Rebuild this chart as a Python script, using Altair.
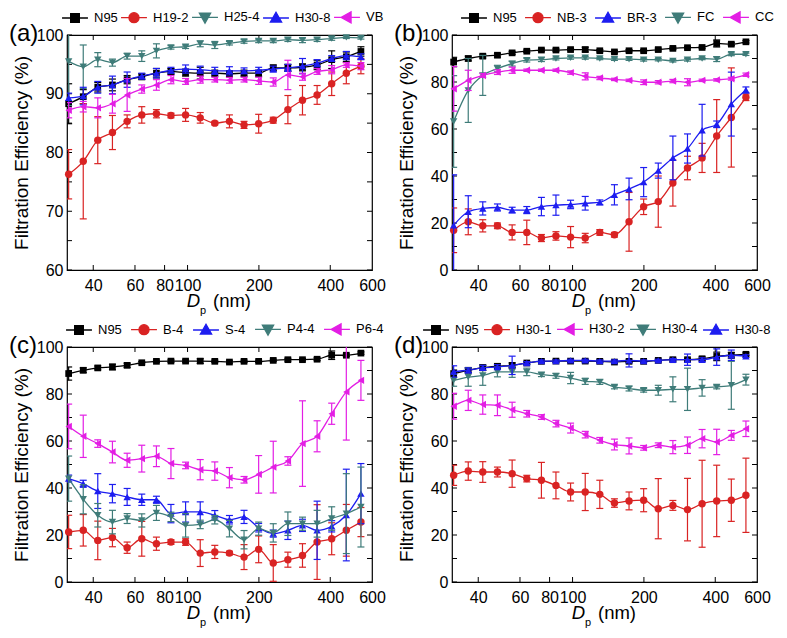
import altair as alt
import pandas as pd

FONT = "Liberation Sans"
W, H = 305, 235

# particle diameter channels (nm)
dp_nm = [31.5, 36.3, 41.8, 48.2, 55.6, 64.1, 73.9, 85.1, 98.1, 113.1, 130.3,
         150.2, 173.1, 199.5, 229.9, 265.0, 305.4, 352.0, 405.6, 467.5, 538.8]

x_labels = [40, 60, 80, 100, 200, 400, 600]
x_ticks = [40, 60, 80, 100, 200, 400]

BLACK = "#000000"
RED = "#d92323"
TEAL = "#3f7c79"
BLUE = "#1d1df0"
MAGENTA = "#e31ee4"

# ---------------- panel (a) ----------------
a_names = ["N95", "H19-2", "H25-4", "H30-8", "VB"]
a_n95 = [88.3, 89.5, 91.1, 91.5, 92.4, 92.9, 93.5, 93.8, 93.6, 93.5, 93.5, 93.4, 93.5, 93.5, 94.4, 94.4, 94.5, 94.9, 95.8, 96.3, 97.2]
a_n95_err = [3.4, 1.2, 0.8, 1.0, 0.7, 0.5, 0.8, 0.5, 0.6, 1.0, 0.5, 0.5, 0.5, 0.5, 0.5, 0.6, 0.6, 0.8, 1.5, 0.8, 0.8]
a_h19 = [76.3, 78.5, 82.1, 83.4, 85.3, 86.4, 86.6, 86.3, 86.4, 85.9, 85.0, 85.3, 84.7, 84.9, 85.5, 87.3, 88.9, 89.8, 91.7, 93.5, 94.7]
a_h19_err = [4.2, 9.8, 4.0, 2.9, 1.1, 1.4, 0.7, 0.4, 1.1, 0.9, 0.3, 1.1, 0.6, 1.6, 0.5, 2.4, 2.5, 1.6, 2.0, 1.8, 1.3]
a_h25 = [95.5, 94.6, 95.8, 95.3, 96.4, 96.4, 97.3, 97.9, 98.0, 98.5, 98.3, 98.6, 98.9, 99.0, 99.0, 99.2, 99.1, 99.2, 99.4, 99.6, 99.5]
a_h25_err = [7.5, 3.7, 1.2, 0.6, 0.5, 0.9, 1.2, 0.3, 0.3, 0.5, 0.6, 0.3, 0.3, 0.3, 0.3, 0.3, 0.4, 0.3, 0.3, 0.2, 0.2]
a_h30 = [89.3, 89.6, 91.1, 91.5, 92.4, 93.0, 93.5, 94.0, 94.2, 94.1, 93.9, 93.9, 93.9, 94.0, 94.2, 94.4, 94.7, 95.2, 96.0, 96.5, 96.3]
a_h30_err = [0.8, 1.5, 1.0, 1.5, 1.3, 0.5, 0.8, 0.5, 0.7, 0.6, 0.6, 0.7, 0.5, 0.5, 0.5, 0.6, 1.3, 0.6, 0.5, 0.7, 0.5]
a_vb = [87.2, 87.8, 87.6, 88.3, 89.8, 90.8, 91.5, 92.4, 92.1, 92.4, 92.4, 92.3, 92.4, 92.2, 92.0, 93.2, 92.9, 93.8, 94.1, 94.9, 94.7]
a_vb_err = [1.3, 0.9, 1.7, 1.6, 2.8, 0.7, 0.9, 0.7, 0.5, 0.6, 0.4, 0.5, 0.4, 0.6, 0.7, 2.5, 0.6, 0.5, 0.7, 0.4, 0.6]

# ---------------- panel (b) ----------------
b_names = ["N95", "NB-3", "BR-3", "FC", "CC"]
b_n95 = [88.5, 90.0, 91.0, 91.4, 92.4, 93.1, 93.6, 93.6, 93.8, 93.8, 93.3, 92.8, 93.3, 93.3, 93.8, 94.3, 94.6, 94.7, 96.4, 96.1, 97.1]
b_n95_err = [2.0, 1.0, 0.8, 0.8, 0.6, 0.5, 0.5, 0.5, 0.5, 1.0, 0.5, 0.5, 0.5, 0.5, 0.6, 0.5, 0.5, 0.5, 1.5, 0.6, 0.5]
b_nb3 = [16.9, 20.5, 18.8, 18.8, 16.0, 16.0, 13.6, 14.5, 14.0, 13.6, 16.0, 15.0, 20.5, 26.9, 29.1, 37.0, 43.4, 47.7, 57.0, 64.9, 73.5]
b_nb3_err = [9.5, 5.5, 2.6, 1.2, 3.2, 5.2, 1.5, 1.8, 4.5, 2.0, 1.2, 1.0, 12.5, 3.3, 10.9, 9.8, 5.0, 6.2, 15.5, 21.1, 1.4]
b_br3 = [19.0, 24.8, 26.2, 26.6, 25.5, 25.5, 27.0, 27.6, 27.9, 28.4, 28.8, 32.0, 34.5, 37.4, 42.3, 47.7, 51.7, 59.5, 62.0, 70.6, 76.6]
b_br3_err = [21.5, 6.8, 2.8, 1.5, 1.2, 1.5, 3.9, 4.3, 1.8, 2.9, 1.0, 4.3, 4.6, 6.2, 3.2, 9.3, 6.2, 11.0, 1.4, 13.6, 1.3]
b_fc = [63.2, 76.4, 82.8, 85.7, 87.8, 89.3, 89.5, 90.0, 90.3, 90.3, 90.0, 89.7, 89.7, 89.5, 89.5, 89.0, 89.5, 90.0, 89.7, 91.8, 91.8]
b_fc_err = [19.5, 13.6, 8.5, 1.4, 1.0, 0.8, 0.8, 0.6, 0.6, 0.6, 0.5, 0.5, 0.5, 0.6, 0.5, 0.5, 0.6, 0.5, 1.0, 0.6, 0.5]
b_cc = [77.1, 80.7, 82.8, 84.2, 85.0, 85.0, 85.0, 85.0, 84.0, 82.4, 81.7, 81.1, 80.7, 79.9, 79.9, 80.4, 79.9, 80.7, 80.9, 81.4, 83.1]
b_cc_err = [9.5, 4.3, 0.8, 1.0, 1.3, 0.5, 0.5, 0.5, 0.7, 1.5, 0.7, 0.5, 0.5, 1.0, 0.7, 0.7, 1.5, 0.5, 0.5, 0.6, 0.7]

# ---------------- panel (c) ----------------
c_names = ["N95", "B-4", "S-4", "P4-4", "P6-4"]
c_n95 = [88.7, 90.1, 91.1, 91.5, 92.2, 93.3, 93.9, 94.0, 94.0, 94.0, 93.9, 93.6, 93.9, 93.9, 94.3, 94.6, 94.6, 94.8, 96.5, 96.5, 97.4]
c_n95_err = [2.8, 1.0, 0.8, 1.2, 0.9, 0.5, 0.5, 0.5, 0.5, 1.0, 0.5, 0.5, 0.5, 0.5, 0.5, 0.6, 0.5, 0.6, 1.8, 0.5, 0.5]
c_b4 = [21.3, 22.0, 17.7, 18.9, 14.6, 18.4, 16.3, 17.0, 17.0, 12.3, 12.8, 12.3, 10.6, 13.9, 8.1, 9.5, 11.3, 17.0, 18.4, 22.0, 25.5]
c_b4_err = [7.1, 6.7, 8.2, 3.9, 2.4, 7.4, 2.8, 1.0, 1.4, 5.7, 2.8, 0.8, 5.3, 5.7, 7.8, 3.2, 5.0, 15.9, 6.8, 11.0, 6.2]
c_s4 = [44.0, 41.8, 38.7, 37.6, 36.2, 35.0, 35.0, 29.1, 29.8, 29.8, 28.4, 26.5, 27.7, 23.1, 20.6, 22.0, 24.1, 22.0, 23.7, 28.5, 37.6]
c_s4_err = [1.5, 1.5, 7.4, 3.9, 3.6, 2.4, 1.5, 3.9, 4.3, 4.3, 2.0, 1.8, 2.8, 1.8, 1.5, 3.9, 2.6, 12.4, 2.4, 19.5, 12.8]
c_p44 = [44.0, 35.2, 28.4, 25.5, 27.0, 26.2, 29.4, 27.7, 24.1, 24.5, 26.5, 22.7, 18.0, 22.7, 20.9, 24.8, 24.8, 24.8, 27.0, 29.1, 31.9]
c_p44_err = [9.6, 6.2, 5.0, 5.0, 2.1, 2.8, 3.2, 2.0, 5.0, 1.8, 1.8, 3.5, 3.9, 2.8, 3.9, 5.0, 2.8, 5.7, 5.0, 17.0, 17.0]
c_p64 = [66.2, 62.0, 58.9, 55.3, 51.8, 52.5, 53.5, 50.4, 49.6, 47.8, 47.2, 44.4, 43.5, 45.8, 48.9, 51.5, 58.9, 62.0, 71.6, 80.9, 85.8]
c_p64_err = [9.5, 9.0, 1.6, 4.6, 3.0, 5.7, 4.4, 6.4, 1.4, 4.3, 3.9, 4.3, 1.4, 8.0, 11.0, 1.8, 18.2, 6.6, 4.5, 20.5, 8.5]

# ---------------- panel (d) ----------------
d_names = ["N95", "H30-1", "H30-2", "H30-4", "H30-8"]
d_n95 = [88.7, 90.1, 91.2, 91.8, 92.2, 93.2, 93.9, 94.0, 94.0, 94.0, 93.9, 93.6, 93.9, 93.9, 94.3, 94.6, 94.6, 95.0, 96.0, 96.5, 96.9]
d_n95_err = [1.5, 1.0, 1.2, 1.0, 1.0, 0.6, 0.5, 0.5, 0.5, 0.6, 0.5, 0.6, 0.5, 0.5, 0.5, 0.6, 0.6, 0.8, 1.8, 1.2, 0.6]
d_h301 = [45.4, 47.2, 46.8, 46.8, 46.1, 44.0, 43.3, 41.1, 38.3, 38.3, 37.3, 33.6, 34.5, 34.8, 31.2, 32.6, 30.8, 33.3, 34.5, 34.8, 36.9]
d_h301_err = [4.3, 3.9, 4.4, 2.1, 5.8, 1.4, 7.6, 5.7, 3.8, 7.9, 6.0, 1.8, 3.8, 4.9, 12.8, 2.1, 13.3, 18.5, 15.2, 9.0, 15.8]
d_h302 = [74.8, 77.3, 75.5, 75.2, 73.3, 71.6, 70.2, 67.4, 65.5, 62.7, 60.3, 58.5, 57.9, 57.1, 58.2, 57.4, 58.2, 61.0, 59.6, 62.4, 65.2]
d_h302_err = [5.5, 4.3, 4.1, 4.4, 3.2, 1.4, 1.0, 1.4, 2.1, 1.4, 1.2, 2.3, 3.4, 1.0, 1.0, 2.8, 3.5, 3.9, 5.4, 2.1, 3.3]
d_h304 = [85.8, 87.2, 87.9, 89.4, 89.4, 89.4, 88.2, 87.7, 86.8, 85.4, 85.1, 83.0, 82.3, 81.6, 81.6, 82.0, 82.0, 82.6, 83.0, 83.7, 86.1]
d_h304_err = [2.5, 3.9, 4.2, 2.1, 2.3, 1.6, 0.8, 1.0, 2.4, 1.3, 1.0, 0.8, 1.0, 0.8, 2.1, 5.3, 9.0, 3.5, 0.8, 10.2, 2.3]
d_h308 = [89.6, 90.1, 91.2, 91.5, 92.2, 93.2, 94.0, 94.0, 94.3, 94.3, 94.0, 94.0, 94.3, 94.0, 94.3, 94.6, 94.6, 94.6, 95.7, 96.5, 96.1]
d_h308_err = [2.4, 1.0, 1.0, 1.0, 3.9, 0.6, 0.5, 0.5, 0.5, 0.5, 0.5, 0.5, 2.8, 0.5, 0.5, 0.5, 2.4, 0.8, 3.5, 2.2, 0.6]

# legend symbols: short line with marker
LEG_PATH = {
    "square": "M-1.85,0H1.85M-0.62,-0.62H0.62V0.62H-0.62Z",
    "circle": "M-1.85,0H1.85M-0.72,0A0.72,0.72 0 1,0 0.72,0A0.72,0.72 0 1,0 -0.72,0Z",
    "triangle-up": "M-1.85,0H1.85M0,-0.82L0.8,0.58L-0.8,0.58Z",
    "triangle-down": "M-1.85,0H1.85M0,0.82L0.8,-0.58L-0.8,-0.58Z",
    "triangle-left": "M-1.85,0H1.85M-0.82,0L0.58,-0.8L0.58,0.8Z",
}
MARK_SIZE = {"square": 45, "circle": 55, "triangle-up": 55, "triangle-down": 55, "triangle-left": 55}


def panel(tag, names, vals, errs, colors, shapes, ydom, ylabels, yticks, leg_x, leg_pad):
    xs = alt.Scale(type="log", domain=[31, 600], nice=False)
    ys = alt.Scale(domain=ydom, nice=False, zero=False)
    xax = alt.Axis(values=x_labels, format="d", ticks=False, domain=False, grid=False,
                   labelFont=FONT, labelFontSize=16, labelColor="black", labelPadding=7,
                   labelOverlap=False, labelFlush=False, labelBound=False, title=None)
    yax = alt.Axis(values=ylabels, format="d", ticks=False, domain=False, grid=False,
                   labelFont=FONT, labelFontSize=16, labelColor="black", labelPadding=4,
                   labelOverlap=False, labelFlush=False, labelBound=False,
                   title="Filtration Efficiency (%)", titleFont=FONT, titleFontSize=19,
                   titleFontWeight="normal", titleColor="black", titlePadding=5)

    def X(f):
        return alt.X(f, type="quantitative", scale=xs, axis=xax)

    def Y(f):
        return alt.Y(f, type="quantitative", scale=ys, axis=yax)

    layers = []
    yt = pd.DataFrame({"t": yticks})
    xt = pd.DataFrame({"t": x_ticks})
    layers.append(alt.Chart(yt).mark_rule(color="black", strokeWidth=1).encode(
        y=Y("t"), x=alt.value(0), x2=alt.value(5)))
    layers.append(alt.Chart(yt).mark_rule(color="black", strokeWidth=1).encode(
        y=Y("t"), x=alt.value(W - 5), x2=alt.value(W)))
    layers.append(alt.Chart(xt).mark_rule(color="black", strokeWidth=1).encode(
        x=X("t"), y=alt.value(H - 5), y2=alt.value(H)))
    layers.append(alt.Chart(xt).mark_rule(color="black", strokeWidth=1).encode(
        x=X("t"), y=alt.value(0), y2=alt.value(5)))

    for v, e, c, s in zip(vals, errs, colors, shapes):
        df = pd.DataFrame({
            "d": dp_nm, "eff": v,
            "lo": [a - b for a, b in zip(v, e)],
            "hi": [a + b for a, b in zip(v, e)],
        })
        base = alt.Chart(df)
        layers.append(base.mark_errorbar(ticks=True, size=7, thickness=1.2, color=c,
                                         opacity=1, clip=True).encode(
            x=X("d"), y=Y("lo"), y2="hi:Q"))
        layers.append(base.mark_line(color=c, strokeWidth=1.3, interpolate="monotone").encode(
            x=X("d"), y=Y("eff")))
        layers.append(base.mark_point(shape=s, filled=True, size=MARK_SIZE[s], color=c,
                                      opacity=1).encode(x=X("d"), y=Y("eff")))

    legend = alt.Legend(orient="none", legendX=leg_x, legendY=-26, direction="horizontal",
                        columns=len(names), title=None, symbolSize=196, gridAlign="each",
                        symbolStrokeWidth=1.3, labelFont=FONT, labelFontSize=13,
                        labelColor="black", labelOffset=11, columnPadding=leg_pad, padding=0)
    leg_df = pd.DataFrame({"series": names, "d": [100] * len(names),
                           "eff": [ydom[0]] * len(names)})
    layers.append(alt.Chart(leg_df).transform_filter("false").mark_point(
        filled=True, opacity=1, strokeWidth=1.3).encode(
        x=X("d"), y=Y("eff"),
        shape=alt.Shape("series:N", scale=alt.Scale(domain=names, range=[LEG_PATH[s] for s in shapes]), legend=legend),
        fill=alt.Fill("series:N", scale=alt.Scale(domain=names, range=colors), legend=legend),
        stroke=alt.Stroke("series:N", scale=alt.Scale(domain=names, range=colors), legend=legend),
    ))

    one = pd.DataFrame({"k": [0]})

    def txt(text, x, y, size, style="normal", align="left"):
        return alt.Chart(one).mark_text(text=text, font=FONT, fontSize=size, fontStyle=style,
                                        align=align, baseline="alphabetic", color="black").encode(
            x=alt.value(x), y=alt.value(y))

    layers += [
        txt(tag, -58, 6, 24),
        txt("D", 133, H + 37, 18.5, "italic", "right"),
        txt("p", 133, H + 44, 11),
        txt("(nm)", 146, H + 37, 18.5),
    ]
    return alt.layer(*layers).properties(width=W, height=H)


pa = panel("(a)", a_names, [a_n95, a_h19, a_h25, a_h30, a_vb],
           [a_n95_err, a_h19_err, a_h25_err, a_h30_err, a_vb_err],
           [BLACK, RED, TEAL, BLUE, MAGENTA],
           ["square", "circle", "triangle-down", "triangle-up", "triangle-left"],
           [60, 100], [60, 70, 80, 90, 100], [60, 65, 70, 75, 80, 85, 90, 95, 100], 0, 0)
pb = panel("(b)", b_names, [b_n95, b_nb3, b_br3, b_fc, b_cc],
           [b_n95_err, b_nb3_err, b_br3_err, b_fc_err, b_cc_err],
           [BLACK, RED, BLUE, TEAL, MAGENTA],
           ["square", "circle", "triangle-up", "triangle-down", "triangle-left"],
           [0, 100], [0, 20, 40, 60, 80, 100], [0, 10, 20, 30, 40, 50, 60, 70, 80, 90, 100], 14, 5)
pc = panel("(c)", c_names, [c_n95, c_b4, c_s4, c_p44, c_p64],
           [c_n95_err, c_b4_err, c_s4_err, c_p44_err, c_p64_err],
           [BLACK, RED, BLUE, TEAL, MAGENTA],
           ["square", "circle", "triangle-up", "triangle-down", "triangle-left"],
           [0, 100], [0, 20, 40, 60, 80, 100], [0, 10, 20, 30, 40, 50, 60, 70, 80, 90, 100], 4, 6)
pd_ = panel("(d)", d_names, [d_n95, d_h301, d_h302, d_h304, d_h308],
            [d_n95_err, d_h301_err, d_h302_err, d_h304_err, d_h308_err],
            [BLACK, RED, MAGENTA, TEAL, BLUE],
            ["square", "circle", "triangle-left", "triangle-down", "triangle-up"],
            [0, 100], [0, 20, 40, 60, 80, 100], [0, 10, 20, 30, 40, 50, 60, 70, 80, 90, 100], -24, 2)

chart = alt.concat(pa, pb, pc, pd_, columns=2, spacing={"row": 77, "column": 80},
                   bounds="flush").resolve_scale(
    fill="independent", stroke="independent", shape="independent"
).properties(
    padding=0, background="white"
).configure_view(stroke="black", strokeWidth=1.2)

chart.save("out.html", embed_options={"renderer": "svg", "actions": False})
